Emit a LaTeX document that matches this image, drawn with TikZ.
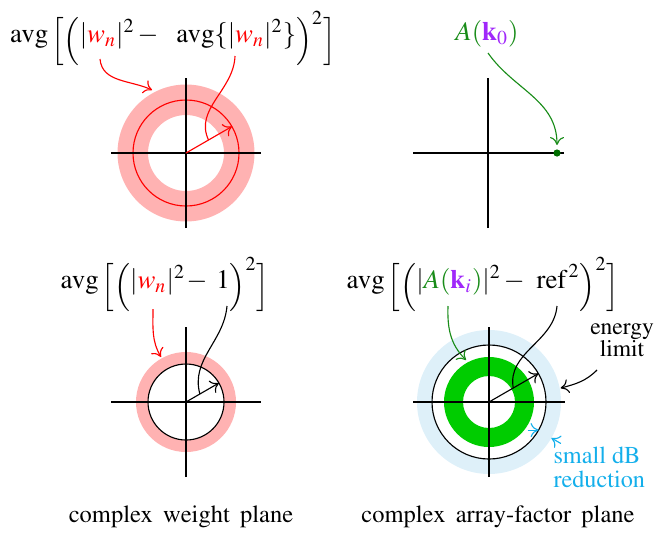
\documentclass[tikz,border=0pt]{standalone}
\usepackage[T1]{fontenc}
\usepackage{mathptmx}
\usetikzlibrary{arrows.meta,calc}
\definecolor{pinkring}{RGB}{255,178,178}
\definecolor{lblue}{RGB}{222,240,249}
\definecolor{ringgreen}{RGB}{0,204,0}
\definecolor{dgreen}{RGB}{25,140,25}
\definecolor{dotgreen}{RGB}{0,110,0}
\definecolor{kpurple}{RGB}{160,40,250}
\definecolor{dbcyan}{RGB}{20,175,235}
\newcommand{\dlo}[1]{\mathopen{\lower2.4pt\hbox{$#1$}}}
\newcommand{\dlc}[1]{\mathclose{\lower2.4pt\hbox{$#1$}}}
\begin{document}
\begin{tikzpicture}[x=0.4pt,y=0.4pt,
  axis/.style={line width=0.45pt},
  conn/.style={line width=0.45pt, -{To[length=3.2pt,width=5.6pt]}},
  curve/.style={line width=0.45pt},
  lbl/.style={inner sep=0pt, font=\fontsize{9.8}{11}\selectfont},
  fml/.style={inner sep=0pt, font=\fontsize{10.7}{12}\selectfont},
]
\useasboundingbox (0,0) rectangle (657,535);

% ---------- top left: weights ----------
\coordinate (C1) at (186,382);
\fill[pinkring, even odd rule] (C1) circle (68.5) (C1) circle (38);
\draw[red, line width=0.45pt] (C1) circle (53);
\draw[axis] ($(C1)+(-75,0)$) -- ($(C1)+(75,0)$);
\draw[axis] ($(C1)+(0,-75)$) -- ($(C1)+(0,75)$);
\draw[conn, red] (C1) -- ($(C1)+(30:53)$);
\coordinate (m1) at ($(C1)+(30:26)$);

\node[fml, anchor=base] (f1) at (173,493)
  {$\mathrm{avg}\,\dlo{\Big[}\dlo{\Big(}|\textcolor{red}{w_n}|^2\mkern2mu{-}\mkern12mu\mathrm{avg}\{|\textcolor{red}{w_n}|^2\}\dlc{\Big)}^2\dlc{\Big]}$};
\coordinate (s1) at (100,476);
\coordinate (e1) at (152,445);
\coordinate (s2) at (235,479);
\draw[conn, red] (s1) to[out=-85,in=155] (e1);
\draw[curve, red] (s2) to[out=-92,in=115] (m1);

% ---------- top right: array factor ----------
\coordinate (C2) at (488,382);
\draw[axis] ($(C2)+(-75,0)$) -- ($(C2)+(76,0)$);
\draw[axis] ($(C2)+(0,-75)$) -- ($(C2)+(0,75)$);
\coordinate (dot) at (557,382);
\fill[dotgreen] (dot) circle (3.6);
\node[fml, anchor=base] (a0) at (487,495)
  {$\textcolor{dgreen}{A(\textcolor{kpurple}{\mathbf{k}_0})}$};
\coordinate (s3) at (488,482);
\coordinate (e3) at (557,390);
\draw[conn, dgreen] (s3) to[out=-55,in=90] (e3);

% ---------- bottom left ----------
\coordinate (C3) at (186,133);
\fill[pinkring, even odd rule] (C3) circle (50) (C3) circle (38);
\draw[line width=0.45pt] (C3) circle (38);
\draw[axis] ($(C3)+(-75,0)$) -- ($(C3)+(75,0)$);
\draw[axis] ($(C3)+(0,-75)$) -- ($(C3)+(0,75)$);
\draw[conn] (C3) -- ($(C3)+(30:38)$);
\coordinate (m3) at ($(C3)+(30:16)$);
\node[fml, anchor=base] (f3) at (165,247)
  {$\mathrm{avg}\,\dlo{\Big[}\dlo{\Big(}|\textcolor{red}{w_n}|^2\mkern1mu{-}\mkern6mu1\dlc{\Big)}^2\dlc{\Big]}$};
\coordinate (s4) at (153,226);
\coordinate (e4) at (161,178);
\coordinate (s5) at (227,229);
\draw[conn, red] (s4) to[out=-90,in=120] (e4);
\draw[curve] (s5) to[out=-95,in=105] (m3);
\node[lbl, anchor=base] (l1) at (181,13)
  {complex\hspace{0.42em}weight\hspace{0.42em}plane};

% ---------- bottom right ----------
\coordinate (C4) at (489,133);
\fill[lblue, even odd rule] (C4) circle (72) (C4) circle (57);
\fill[ringgreen, even odd rule] (C4) circle (45) (C4) circle (26);
\draw[line width=0.45pt] (C4) circle (57);
\draw[axis] ($(C4)+(-76,0)$) -- ($(C4)+(76,0)$);
\draw[axis] ($(C4)+(0,-75)$) -- ($(C4)+(0,75)$);
\draw[conn] (C4) -- ($(C4)+(30:57)$);
\coordinate (m4) at ($(C4)+(30:28)$);
\node[fml, anchor=base] (f4) at (483,247)
  {$\mathrm{avg}\,\dlo{\Big[}\dlo{\Big(}|\textcolor{dgreen}{A(\textcolor{kpurple}{\mathbf{k}_i})}|^2\mkern2mu{-}\mkern8mu\mathrm{ref}^{\,2}\dlc{\Big)}^2\dlc{\Big]}$};
\coordinate (s6) at (448,229);
\coordinate (e6) at (466,175);
\coordinate (s7) at (557,229);
\draw[conn, dgreen] (s6) to[out=-92,in=135] (e6);
\draw[curve] (s7) to[out=-95,in=100] (m4);

\node[lbl, align=center, anchor=base, font=\fontsize{9.4}{8.8}\selectfont] (en) at (622,179) {energy\\limit};
\coordinate (s8) at (597,165);
\coordinate (e8) at ($(C4)+(11:73)$);
\draw[conn] (s8) to[out=-135,in=15] (e8);

\node[lbl, align=left, anchor=base west, text=dbcyan, font=\fontsize{9.7}{9.6}\selectfont] (db) at (553,48) {small dB\\reduction};
\coordinate (t1) at ($(C4)+(-29.5:57)$);
\coordinate (t2) at ($(C4)+(-30:72)$);
\draw[conn, dbcyan] ($(t1)+(-11,0)$) -- (t1);
\draw[conn, dbcyan] ($(C4)+(-30:83)$) -- (t2);

\node[lbl, anchor=base] (l2) at (498,13)
  {complex\hspace{0.42em}array-factor\hspace{0.42em}plane};
\end{tikzpicture}
\end{document}
